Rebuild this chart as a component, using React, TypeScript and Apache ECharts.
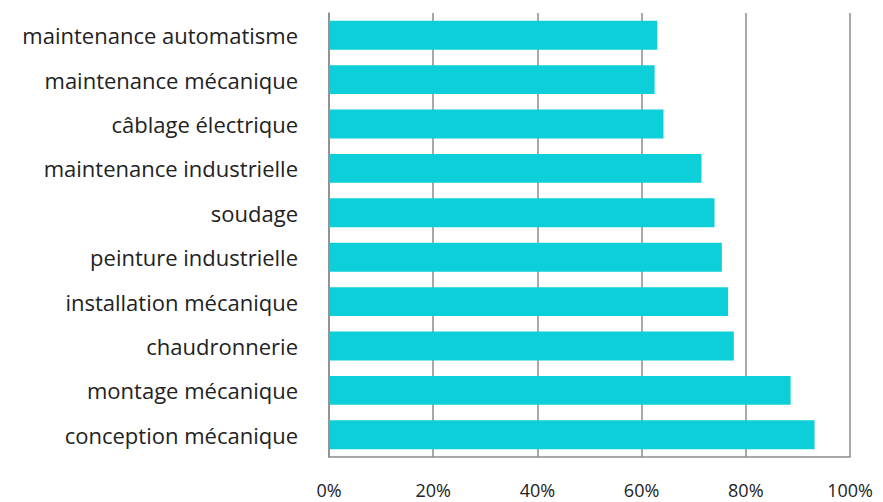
import React, { useEffect, useRef } from "react";
import * as echarts from "echarts";

const categories = [
  "maintenance automatisme",
  "maintenance mécanique",
  "câblage électrique",
  "maintenance industrielle",
  "soudage",
  "peinture industrielle",
  "installation mécanique",
  "chaudronnerie",
  "montage mécanique",
  "conception mécanique",
];

const values = [63.0, 62.5, 64.2, 71.5, 74.0, 75.4, 76.6, 77.7, 88.6, 93.2];

const xTicks = [0, 20, 40, 60, 80, 100];

const FONT = "'Open Sans', Lato, sans-serif";

export default function App() {
  const ref = useRef<HTMLDivElement>(null);
  useEffect(() => {
    if (!ref.current) return;
    const chart = echarts.init(ref.current, null, { renderer: "svg" });
    chart.setOption({
      animation: false,
      backgroundColor: "#ffffff",
      grid: { left: 329, right: 33, top: 13, bottom: 45, containLabel: false },
      xAxis: {
        type: "value",
        min: xTicks[0],
        max: xTicks[xTicks.length - 1],
        interval: 20,
        axisLabel: {
          formatter: "{value}%",
          fontFamily: FONT,
          fontSize: 18,
          color: "#222222",
          margin: 24,
        },
        axisLine: { show: true, lineStyle: { color: "#8c8c8c", width: 1.5 } },
        axisTick: { show: false },
        splitLine: { show: true, lineStyle: { color: "#8c8c8c", width: 1.5 } },
      },
      yAxis: {
        type: "category",
        inverse: true,
        data: categories,
        axisLabel: {
          fontFamily: FONT,
          fontSize: 22,
          color: "#222222",
          margin: 31,
        },
        axisLine: { show: true, lineStyle: { color: "#8c8c8c", width: 1.5 } },
        axisTick: { show: false },
        splitLine: { show: false },
      },
      series: [
        {
          type: "bar",
          data: values,
          barCategoryGap: "35%",
          itemStyle: { color: "#0dcfd9" },
        },
      ],
    });
    return () => chart.dispose();
  }, []);
  return (
    <div
      ref={ref}
      style={{ position: "absolute", left: 0, top: 0, width: 883, height: 502 }}
    />
  );
}
